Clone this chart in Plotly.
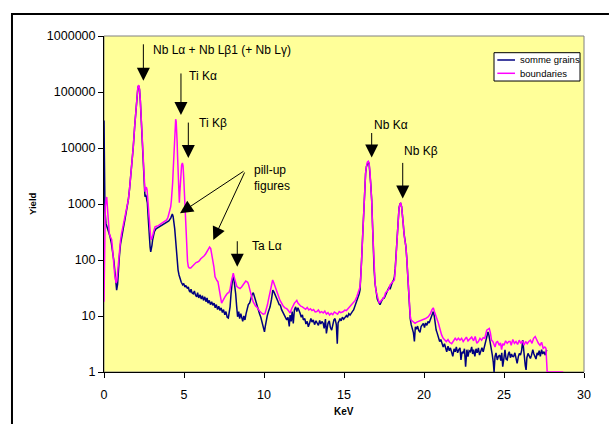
import plotly.graph_objects as go

# Spectrum: "somme grains"
grains_kev = [
    0.00, 0.03, 0.06, 0.12, 0.20, 0.27, 0.38, 0.46, 0.54, 0.62, 0.69, 0.75, 0.79, 0.85, 0.90, 0.96,
    1.03, 1.10, 1.20, 1.31, 1.42, 1.52, 1.60, 1.67, 1.75, 1.83, 1.92, 2.00, 2.06, 2.12, 2.17, 2.22,
    2.27, 2.33, 2.38, 2.42, 2.46, 2.50, 2.53, 2.56, 2.60, 2.64, 2.68, 2.71, 2.75, 2.79, 2.84, 2.88,
    2.92, 2.96, 3.00, 3.04, 3.08, 3.15, 3.25, 3.35, 3.50, 3.65, 3.81, 3.95, 4.05, 4.17, 4.22, 4.27,
    4.32, 4.38, 4.42, 4.46, 4.50, 4.54, 4.58, 4.63, 4.69, 4.75, 4.83, 4.92, 4.98, 5.06, 5.12, 5.21,
    5.27, 5.33, 5.38, 5.44, 5.50, 5.58, 5.65, 5.71, 5.79, 5.85, 5.92, 6.00, 6.08, 6.15, 6.22, 6.30,
    6.37, 6.44, 6.50, 6.58, 6.65, 6.73, 6.80, 6.88, 6.95, 7.02, 7.10, 7.17, 7.25, 7.32, 7.40, 7.47,
    7.55, 7.62, 7.70, 7.77, 7.82, 7.88, 7.94, 8.00, 8.06, 8.12, 8.18, 8.23, 8.29, 8.35, 8.42, 8.48,
    8.55, 8.60, 8.67, 8.74, 8.81, 8.88, 8.95, 9.02, 9.10, 9.17, 9.25, 9.33, 9.40, 9.46, 9.55, 9.65,
    9.72, 9.80, 9.85, 9.92, 9.98, 10.03, 10.08, 10.13, 10.20, 10.28, 10.38, 10.47, 10.55, 10.62, 10.70, 10.79,
    10.88, 10.95, 11.02, 11.10, 11.21, 11.30, 11.42, 11.50, 11.58, 11.63, 11.70, 11.76, 11.83, 11.90, 11.98, 12.05,
    12.12, 12.25, 12.33, 12.40, 12.46, 12.55, 12.62, 12.70, 12.77, 12.85, 12.93, 13.00, 13.08, 13.16, 13.25, 13.32,
    13.40, 13.48, 13.55, 13.62, 13.70, 13.76, 13.84, 13.90, 13.95, 14.00, 14.08, 14.15, 14.23, 14.30, 14.37, 14.44,
    14.52, 14.58, 14.63, 14.70, 14.75, 14.82, 14.90, 14.98, 15.06, 15.15, 15.22, 15.30, 15.38, 15.45, 15.52, 15.60,
    15.67, 15.75, 15.80, 15.88, 15.95, 16.00, 16.05, 16.10, 16.16, 16.21, 16.26, 16.30, 16.35, 16.40, 16.46, 16.52,
    16.57, 16.62, 16.67, 16.73, 16.78, 16.83, 16.88, 16.94, 17.00, 17.08, 17.15, 17.20, 17.25, 17.33, 17.40, 17.46,
    17.52, 17.60, 17.68, 17.75, 17.82, 17.88, 17.95, 18.02, 18.10, 18.15, 18.20, 18.25, 18.30, 18.35, 18.40, 18.44,
    18.50, 18.54, 18.60, 18.65, 18.70, 18.75, 18.80, 18.87, 18.92, 18.98, 19.03, 19.08, 19.14, 19.20, 19.27, 19.34,
    19.40, 19.46, 19.53, 19.60, 19.67, 19.75, 19.82, 19.90, 19.96, 20.03, 20.10, 20.18, 20.25, 20.32, 20.40, 20.47,
    20.53, 20.58, 20.64, 20.70, 20.76, 20.82, 20.90, 20.98, 21.05, 21.12, 21.20, 21.28, 21.35, 21.42, 21.50, 21.58,
    21.65, 21.73, 21.80, 21.88, 21.95, 22.02, 22.10, 22.17, 22.25, 22.31, 22.38, 22.45, 22.53, 22.60, 22.68, 22.75,
    22.82, 22.90, 22.98, 23.04, 23.10, 23.18, 23.25, 23.32, 23.40, 23.47, 23.55, 23.62, 23.70, 23.78, 23.85, 23.92,
    24.00, 24.06, 24.12, 24.20, 24.27, 24.33, 24.38, 24.44, 24.50, 24.58, 24.65, 24.73, 24.80, 24.86, 24.92, 25.00,
    25.06, 25.13, 25.20, 25.27, 25.33, 25.40, 25.47, 25.53, 25.60, 25.68, 25.75, 25.82, 25.90, 25.96, 26.03, 26.10,
    26.17, 26.22, 26.27, 26.33, 26.38, 26.43, 26.50, 26.57, 26.65, 26.72, 26.80, 26.87, 26.93, 27.00, 27.07, 27.13,
    27.20, 27.27, 27.35, 27.42, 27.50, 27.58, 27.67,
]
grains_yield = [
    31000, 1500, 780, 450, 390, 340, 260, 200, 150, 95, 58, 38, 29, 37, 70, 115,
    190, 260, 360, 530, 800, 1180, 1900, 3000, 5500, 10500, 25000, 55000, 90000, 122000, 128000, 110000,
    70000, 31600, 15000, 8100, 4000, 2000, 1500, 1350, 1450, 1380, 1150, 1050, 650, 390, 240, 172,
    140, 155, 185, 230, 270, 320, 360, 375, 390, 410, 440, 470, 500, 560, 610, 660,
    600, 480, 360, 260, 170, 115, 85, 66, 54, 47, 40, 36, 38, 33, 35, 31,
    33, 28, 27, 30, 26, 25, 28, 24, 22, 26, 21, 24, 20, 23, 19, 22,
    18, 21, 17, 19, 16, 18, 15.5, 17, 14, 16, 13, 15, 12.5, 14, 11.5, 13,
    10.5, 12, 9.5, 9.2, 11, 14.6, 25, 40, 54, 45, 34, 25, 15, 9.7, 12, 9,
    11, 9.7, 8, 10, 8.5, 11, 14, 16, 17, 21, 24, 26, 22, 19, 15, 12.8,
    11, 9.5, 8.5, 7, 6, 5.2, 6.5, 8.5, 10, 12, 14.6, 20, 29, 27, 24, 22,
    18, 16, 15.7, 13, 11.3, 10, 8.5, 9.5, 6.5, 10.4, 8, 12, 7.4, 12.8, 14.6, 12,
    14, 11.3, 9.5, 10.5, 8.5, 9, 7.2, 8, 6.4, 7.5, 9, 7.8, 8.5, 7, 8.2, 7.5,
    6.8, 8.3, 7.2, 8, 7.4, 6, 8.8, 4.9, 7, 7.4, 8.2, 6.2, 5.6, 7.5, 8.5, 9.0,
    7, 3.2, 7.5, 8.3, 9, 8.2, 9.5, 8.8, 9.7, 10.2, 9.5, 11, 10.4, 11.5, 12, 12.8,
    14.5, 16, 18, 21, 25, 29, 45, 100, 250, 590, 1200, 2350, 3500, 4650, 5500, 5700,
    5200, 3800, 2300, 1180, 400, 150, 70, 38, 27, 20, 18, 16.5, 16, 18, 20, 21,
    21, 24, 27, 31, 33, 30, 36, 40, 44, 50, 70, 120, 220, 380, 650, 850,
    1000, 1020, 900, 700, 450, 300, 240, 172, 110, 50, 22, 13, 9, 7, 6, 5,
    3.5, 6.4, 5.8, 6.6, 5.5, 5.1, 6.5, 7, 7.4, 6.2, 7.5, 6.8, 8, 7.5, 8.5, 9.5,
    11, 12, 10, 7, 5.6, 5.0, 4.2, 3.5, 3.8, 3.1, 2.8, 3.2, 2.6, 2.3, 2.9, 2.4,
    2.7, 2.1, 1.9, 2.6, 2.3, 2.8, 2.2, 2.5, 2.7, 1.64, 2.3, 2.15, 2.6, 1.24, 2.5, 1.88,
    2.4, 2.3, 2.8, 2.1, 2.5, 1.9, 2.6, 2.2, 2.7, 2.0, 2.4, 2.7, 2.3, 2.8, 3.5, 4.4,
    5.2, 4.5, 3.7, 2.7, 2.0, 1.5, 1.0, 1.9, 2.2, 1.64, 1.9, 2.0, 1.6, 2.2, 1.24, 1.8,
    2.5, 1.7, 1.64, 2.1, 2.3, 1.8, 2.1, 1.9, 1.88, 2.2, 1.6, 1.43, 1.9, 2.15, 2.0, 2.4,
    3.7, 2.6, 1.64, 1.3, 1.09, 1.8, 2.15, 1.9, 1.75, 2.0, 2.5, 2.1, 1.88, 1.7, 2.2, 2.0,
    2.4, 1.9, 2.5, 2.1, 2.3, 2.0, 2.5,
]

# Spectrum: "boundaries"
bound_kev = [
    0.00, 0.04, 0.08, 0.13, 0.17, 0.21, 0.25, 0.33, 0.40, 0.48, 0.54, 0.60, 0.67, 0.75, 0.80, 0.85,
    0.90, 0.96, 1.03, 1.10, 1.20, 1.31, 1.42, 1.52, 1.60, 1.67, 1.75, 1.83, 1.92, 2.00, 2.06, 2.12,
    2.17, 2.22, 2.27, 2.33, 2.38, 2.42, 2.46, 2.50, 2.53, 2.56, 2.60, 2.63, 2.66, 2.69, 2.73, 2.77,
    2.82, 2.88, 2.92, 2.96, 3.00, 3.04, 3.10, 3.19, 3.28, 3.40, 3.55, 3.71, 3.82, 3.92, 4.00, 4.06,
    4.12, 4.17, 4.21, 4.25, 4.29, 4.33, 4.38, 4.42, 4.46, 4.48, 4.51, 4.54, 4.57, 4.60, 4.63, 4.67,
    4.69, 4.71, 4.74, 4.77, 4.81, 4.85, 4.90, 4.94, 4.98, 5.01, 5.04, 5.07, 5.10, 5.14, 5.17, 5.22,
    5.27, 5.33, 5.42, 5.50, 5.58, 5.66, 5.75, 5.85, 5.95, 6.05, 6.15, 6.25, 6.35, 6.45, 6.52, 6.60,
    6.67, 6.73, 6.80, 6.87, 6.94, 7.00, 7.06, 7.12, 7.18, 7.25, 7.30, 7.35, 7.40, 7.47, 7.56, 7.65,
    7.72, 7.80, 7.88, 7.94, 8.00, 8.08, 8.15, 8.23, 8.30, 8.40, 8.50, 8.60, 8.70, 8.80, 8.86, 8.92,
    8.98, 9.04, 9.10, 9.17, 9.23, 9.32, 9.40, 9.48, 9.54, 9.65, 9.75, 9.85, 9.95, 10.06, 10.15, 10.22,
    10.27, 10.35, 10.42, 10.48, 10.54, 10.60, 10.69, 10.78, 10.88, 10.95, 11.00, 11.10, 11.20, 11.31, 11.42, 11.52,
    11.63, 11.73, 11.83, 11.90, 11.98, 12.05, 12.12, 12.20, 12.30, 12.40, 12.50, 12.60, 12.70, 12.80, 12.90, 13.00,
    13.10, 13.20, 13.30, 13.40, 13.50, 13.60, 13.70, 13.80, 13.90, 14.00, 14.10, 14.20, 14.30, 14.40, 14.50, 14.60,
    14.70, 14.80, 14.96, 15.05, 15.15, 15.25, 15.35, 15.40, 15.50, 15.60, 15.70, 15.80, 15.90, 16.00, 16.05, 16.10,
    16.16, 16.21, 16.26, 16.30, 16.35, 16.40, 16.46, 16.52, 16.57, 16.62, 16.67, 16.73, 16.78, 16.83, 16.88, 16.94,
    17.00, 17.08, 17.14, 17.20, 17.27, 17.33, 17.40, 17.46, 17.52, 17.60, 17.68, 17.77, 17.88, 17.98, 18.06, 18.15,
    18.20, 18.23, 18.28, 18.33, 18.38, 18.44, 18.50, 18.54, 18.60, 18.65, 18.70, 18.77, 18.82, 18.87, 18.92, 18.98,
    19.03, 19.08, 19.14, 19.19, 19.30, 19.44, 19.55, 19.65, 19.80, 19.96, 20.10, 20.27, 20.40, 20.50, 20.58, 20.65,
    20.72, 20.80, 20.90, 21.00, 21.10, 21.20, 21.30, 21.40, 21.50, 21.60, 21.73, 21.85, 21.95, 22.05, 22.15, 22.25,
    22.35, 22.45, 22.56, 22.65, 22.75, 22.87, 22.98, 23.10, 23.20, 23.30, 23.40, 23.50, 23.60, 23.70, 23.80, 23.92,
    24.00, 24.08, 24.15, 24.22, 24.30, 24.38, 24.44, 24.52, 24.60, 24.70, 24.78, 24.85, 24.92, 25.00, 25.10, 25.20,
    25.30, 25.38, 25.45, 25.55, 25.65, 25.75, 25.85, 25.95, 26.05, 26.15, 26.25, 26.35, 26.45, 26.55, 26.65, 26.75,
    26.85, 26.95, 27.05, 27.15, 27.25, 27.35, 27.45, 27.55, 27.62, 27.70, 28.70,
]
bound_yield = [
    18, 300, 900, 1200, 1330, 900, 500, 300, 260, 230, 150, 88, 55, 39, 42, 60,
    95, 150, 220, 300, 420, 600, 850, 1180, 1900, 3000, 5500, 10500, 25000, 55000, 92000, 125000,
    133000, 115000, 72000, 31600, 15000, 8100, 4000, 2030, 1750, 1660, 1850, 2000, 1950, 1800, 1200, 780,
    450, 300, 250, 230, 245, 270, 320, 390, 400, 410, 440, 475, 500, 520, 580, 680,
    790, 900, 1150, 1550, 2400, 4300, 10000, 20900, 30000, 32600, 30000, 23600, 13000, 6900, 3800, 1780,
    1300, 1050, 1600, 2700, 4000, 4950, 5400, 4800, 3050, 1800, 1050, 600, 345, 200, 132, 95,
    76, 72, 72, 76, 80, 86, 90, 92, 96, 105, 110, 118, 128, 142, 155, 170,
    160, 130, 105, 75, 50, 45, 43, 41, 33, 22, 19, 17, 18, 20, 22, 24,
    25.6, 26, 30, 38.8, 48, 58, 48, 39, 34, 32, 31, 33, 36, 38, 42, 41,
    40, 36, 30, 26, 22, 18, 16, 15, 14.6, 13, 12, 11.3, 10.8, 11, 13, 16,
    19, 25, 32, 40, 44, 40, 34, 28, 23, 21, 19, 17, 15, 14, 13.5, 12.5,
    11.3, 13.5, 16, 17, 18, 19, 17, 16, 15, 14.6, 14, 13.2, 14.2, 12.8, 13.5, 12.5,
    13, 11.8, 12, 12.8, 11.5, 12, 11.3, 12.2, 10.8, 11.5, 10.4, 11.2, 10.6, 11.8, 11.3, 10.8,
    12, 11.5, 12, 12.8, 12.5, 13.5, 14, 14.6, 16, 17, 19, 22, 26, 33, 50, 100,
    260, 590, 1250, 2350, 3600, 4650, 5600, 5800, 5300, 3900, 2350, 1180, 420, 150, 70, 38.8,
    28, 22, 19, 17, 18, 19, 20, 21, 22, 26, 28, 29, 36, 38.8, 42, 44,
    65, 88, 160, 300, 500, 850, 1000, 1050, 900, 700, 450, 260, 210, 172, 110, 50,
    25, 14.6, 10, 8.5, 8, 7.4, 7.8, 8.0, 8.2, 8.5, 9, 9.7, 11, 13, 14, 12,
    10, 9, 7.4, 5.5, 4.6, 4, 3.8, 3.5, 3.8, 3.4, 3.2, 3.6, 4, 3.7, 4.0, 3.7,
    4.0, 3.5, 3.9, 4.2, 3.6, 4.0, 4.2, 3.6, 4.3, 3.25, 3.5, 4.0, 3.7, 4.1, 4.0, 5.6,
    5.8, 6.0, 5.0, 3.7, 3.5, 3.0, 2.8, 3.4, 3.5, 3.0, 3.3, 2.5, 3.2, 3.0, 3.6, 3.25,
    3.5, 3.5, 3.0, 3.8, 3.25, 3.5, 3.1, 3.7, 3.25, 3.6, 3.0, 3.5, 3.2, 3.5, 3.7, 3.25,
    4.0, 4.3, 3.6, 3.25, 3.0, 3.4, 2.65, 2.8, 2.65, 1, 1,
]

series_names = ["somme grains", "boundaries"]
series_colors = ["#000080", "#FF00FF"]

y_tick_values = [1, 10, 100, 1000, 10000, 100000, 1000000]
y_tick_labels = ["1", "10", "100", "1000", "10000", "100000", "1000000"]
x_tick_values = [0, 5, 10, 15, 20, 25, 30]

FONT = "Liberation Sans, Arial, sans-serif"
BG = "#FFFF99"

fig = go.Figure()
fig.add_trace(go.Scatter(x=grains_kev, y=grains_yield, mode="lines",
                         line=dict(color=series_colors[0], width=1.5),
                         name=series_names[0], showlegend=False))
fig.add_trace(go.Scatter(x=bound_kev, y=bound_yield, mode="lines",
                         line=dict(color=series_colors[1], width=1.5),
                         name=series_names[1], showlegend=False))

# Peak labels: (text, x keV, log10 yield) anchored at the left edge of the text
peak_labels = [
    ("Nb L\u03b1 + Nb L\u03b21 (+ Nb L\u03b3)", 2.92, 5.75),
    ("Ti K\u03b1", 5.19, 5.286),
    ("Ti K\u03b2", 5.79, 4.446),
    ("pill-up<br>figures", 9.23, 3.47),
    ("Ta L\u03b1", 9.125, 2.25),
    ("Nb K\u03b1", 16.75, 4.41),
    ("Nb K\u03b2", 18.6, 3.95),
]
# Arrows: tip (x keV, log10 yield) and tail offset in pixels
peak_arrows = [
    (2.46, 5.20, 0, -38),
    (4.81, 4.59, 0, -43),
    (5.27, 3.82, 0, -37),
    (4.75, 2.834, 65, -43),
    (6.83, 2.357, 32, -69),
    (8.33, 1.88, 0, -27),
    (16.73, 3.83, 0, -26),
    (18.67, 3.10, 0, -37),
]

annotations = []
for text, xv, yv in peak_labels:
    annotations.append(dict(x=xv, y=yv, xref="x", yref="y", text=text, showarrow=False,
                            xanchor="left", yanchor="middle", align="left",
                            font=dict(family=FONT, size=12, color="black")))
for xv, yv, axv, ayv in peak_arrows:
    annotations.append(dict(x=xv, y=yv, xref="x", yref="y", text="", showarrow=True,
                            ax=axv, ay=ayv, arrowhead=2, arrowsize=2.6, arrowwidth=1,
                            arrowcolor="black"))

# Axis titles placed in paper coordinates
annotations.append(dict(x=0.5, y=-0.119, xref="paper", yref="paper", text="<b>KeV</b>",
                        showarrow=False, xanchor="center", yanchor="middle",
                        font=dict(family=FONT, size=10, color="black")))
annotations.append(dict(x=-0.1500, y=0.5, xref="paper", yref="paper", text="<b>Yield</b>",
                        showarrow=False, xanchor="center", yanchor="middle", textangle=-90,
                        font=dict(family=FONT, size=9.5, color="black")))

# Legend drawn in paper coordinates
leg_x0, leg_x1, leg_y0, leg_y1 = 0.8125, 0.9917, 0.866, 0.9503
leg_rows = [0.9286, 0.889]
shapes = [
    dict(type="rect", xref="paper", yref="paper", x0=0, x1=1, y0=0, y1=1,
         line=dict(color="#808080", width=1), fillcolor=BG, layer="below"),
    dict(type="rect", xref="paper", yref="paper", x0=leg_x0, x1=leg_x1, y0=leg_y0, y1=leg_y1,
         line=dict(color="black", width=1), fillcolor="white"),
    # chart frame: left and top edges as one open path
    dict(type="path", xref="paper", yref="paper",
         path="M -0.1917,-0.1548 L -0.1917,1.0655 L 1.052,1.0655",
         line=dict(color="black", width=2), fillcolor="rgba(0,0,0,0)"),
]
for name, color, row in zip(series_names, series_colors, leg_rows):
    shapes.append(dict(type="line", xref="paper", yref="paper", x0=0.8194, x1=0.8563,
                       y0=row, y1=row, line=dict(color=color, width=1.5)))
    annotations.append(dict(x=0.863, y=row, xref="paper", yref="paper", text=name,
                            showarrow=False, xanchor="left", yanchor="middle",
                            font=dict(family=FONT, size=9.5, color="black")))

fig.update_layout(
    width=613, height=427,
    margin=dict(l=104, r=29, t=36, b=55),
    paper_bgcolor="white", plot_bgcolor=BG,
    font=dict(family=FONT, color="black"),
    showlegend=False,
    annotations=annotations,
    shapes=shapes,
    xaxis=dict(range=[0, 30], tickvals=x_tick_values, ticks="outside", ticklen=5,
               tickcolor="black", showline=True, linecolor="black", linewidth=1,
               showgrid=False, zeroline=False, tickfont=dict(size=12.5),
               ticklabelstandoff=6),
    yaxis=dict(type="log", range=[0, 6], tickvals=y_tick_values, ticktext=y_tick_labels,
               ticks="outside", ticklen=5, tickcolor="black", showline=True,
               linecolor="black", linewidth=1, showgrid=False, zeroline=False,
               tickfont=dict(size=12.5)),
)

fig.write_html("out.html")
